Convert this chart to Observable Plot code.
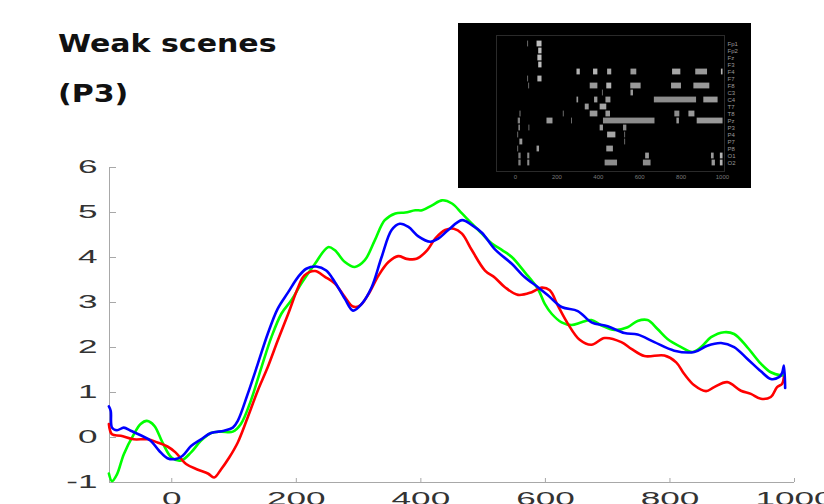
<!DOCTYPE html>
<html><head><meta charset="utf-8">
<script src="https://cdn.jsdelivr.net/npm/d3@7"></script>
<script src="https://cdn.jsdelivr.net/npm/@observablehq/plot@0.6"></script>
<style>
body{margin:0;background:#fff;}
#wrap{position:relative;width:824px;height:504px;overflow:hidden;background:#fff;}
.title{position:absolute;left:58px;font-family:"DejaVu Sans",Verdana,sans-serif;font-weight:bold;font-size:25px;line-height:25px;color:#111;transform:scaleX(1.2);transform-origin:0 0;white-space:nowrap;}
#main{position:absolute;left:0;top:0;}
#inset{position:absolute;left:458px;top:23px;}
</style></head><body>
<div id="wrap">
<div id="main"></div>
<div class="title" style="top:31px">Weak scenes</div>
<div class="title" style="top:81px">(P3)</div>
<div id="inset"></div>
</div>
<script>
// ---- main chart data (time ms, amplitude µV) ----
const xTicks = [0, 200, 400, 600, 800, 1000];
const yTicks = [-1, 0, 1, 2, 3, 4, 5, 6];
const seriesNames = ["cond1", "cond2", "cond3"];
const seriesColors = ["#00ff00", "#ff0000", "#0000ff"];

const cond1 = [[-101,-0.80],[-96,-0.97],[-88,-0.82],[-77,-0.37],[-61,0.07],[-50,0.30],[-40,0.37],[-28,0.26],[-15,-0.11],[0,-0.45],[15,-0.51],[31,-0.33],[47,-0.07],[63,0.10],[79,0.13],[98,0.13],[111,0.30],[127,0.82],[144,1.56],[160,2.23],[176,2.75],[192,3.05],[208,3.42],[230,3.86],[251,4.23],[262,4.16],[278,3.90],[294,3.79],[310,3.94],[326,4.38],[342,4.83],[359,4.98],[375,5.00],[391,5.05],[402,5.05],[418,5.16],[434,5.27],[450,5.20],[466,4.98],[482,4.75],[498,4.53],[514,4.31],[531,4.16],[546,4.01],[567,3.67],[588,3.30],[599,2.97],[610,2.75],[626,2.56],[642,2.50],[658,2.56],[674,2.61],[690,2.49],[711,2.39],[732,2.45],[748,2.59],[764,2.61],[780,2.41],[796,2.19],[818,2.01],[836,1.90],[850,2.01],[866,2.23],[887,2.34],[903,2.30],[924,2.01],[946,1.64],[962,1.45],[978,1.38],[983,1.38]];

const cond2 = [[-101,0.30],[-96,0.07],[-82,0.04],[-61,-0.04],[-39,-0.04],[-23,-0.11],[-7,-0.20],[6,-0.33],[23,-0.59],[41,-0.71],[58,-0.80],[68,-0.89],[79,-0.71],[92,-0.45],[106,-0.11],[122,0.45],[138,1.04],[154,1.56],[170,2.15],[187,2.75],[203,3.34],[213,3.60],[230,3.70],[246,3.57],[262,3.42],[278,3.12],[291,2.91],[302,2.93],[316,3.19],[332,3.60],[348,3.90],[364,4.03],[377,3.97],[393,3.97],[410,4.16],[423,4.42],[439,4.61],[453,4.64],[466,4.53],[482,4.16],[503,3.71],[519,3.55],[535,3.34],[556,3.17],[578,3.23],[594,3.33],[607,3.27],[620,2.93],[636,2.53],[655,2.17],[674,2.06],[695,2.21],[722,2.12],[738,1.97],[759,1.81],[791,1.82],[810,1.67],[823,1.41],[839,1.16],[858,1.03],[871,1.12],[892,1.23],[914,1.04],[930,0.97],[946,0.86],[962,0.90],[972,1.12],[980,1.19],[983,1.34]];

const cond3 = [[-101,0.69],[-98,0.59],[-96,0.22],[-88,0.16],[-77,0.22],[-66,0.15],[-50,0.05],[-34,-0.07],[-20,-0.30],[-7,-0.46],[6,-0.48],[17,-0.41],[31,-0.19],[47,-0.04],[63,0.10],[84,0.15],[98,0.22],[106,0.37],[122,0.97],[138,1.63],[154,2.30],[170,2.86],[187,3.23],[203,3.57],[216,3.75],[232,3.80],[248,3.71],[262,3.45],[278,3.08],[291,2.82],[305,2.97],[321,3.34],[337,4.01],[353,4.61],[366,4.75],[380,4.68],[396,4.47],[415,4.35],[428,4.42],[444,4.61],[466,4.83],[482,4.72],[498,4.55],[519,4.18],[546,3.86],[567,3.56],[588,3.34],[604,3.16],[626,2.90],[652,2.81],[674,2.56],[700,2.47],[727,2.32],[748,2.29],[775,2.12],[807,1.93],[839,1.90],[860,2.04],[882,2.10],[903,2.01],[924,1.75],[946,1.47],[962,1.30],[975,1.34],[980,1.43],[983,1.60],[985,1.10]];

// ---- inset (significance raster) data ----
const channels = ["Fp1","Fp2","Fz","F3","F4","F7","F8","C3","C4","T7","T8","Pz","P3","P4","P7","P8","O1","O2"];
const insetTicks = [0, 200, 400, 600, 800, 1000];
// [channel, start ms, end ms, brightness]
const segments = [
["Fp1",59,63,0.5],["Fp1",104,128,0.75],
["Fp2",112,128,0.75],
["Fz",108,128,0.75],
["F3",112,128,0.75],
["F4",297,313,0.7],["F4",377,398,0.7],["F4",445,465,0.65],["F4",558,586,0.6],["F4",759,799,0.65],["F4",871,928,0.6],["F4",995,1003,0.7],
["F7",59,63,0.5],["F7",108,128,0.7],
["F8",64,68,0.5],["F8",361,398,0.6],["F8",441,465,0.7],["F8",557,607,0.6],["F8",754,802,0.6],["F8",862,939,0.6],
["C3",420,424,0.5],["C3",558,570,0.6],
["C4",297,305,0.6],["C4",382,398,0.6],["C4",437,461,0.6],["C4",671,875,0.55],["C4",910,979,0.6],
["T7",337,356,0.6],["T7",409,441,0.65],
["T8",22,26,0.6],["T8",231,235,0.5],["T8",361,398,0.6],["T8",437,459,0.6],["T8",770,794,0.55],["T8",838,867,0.6],
["Pz",13,24,0.5],["Pz",152,181,0.6],["Pz",271,275,0.5],["Pz",425,674,0.55],["Pz",780,792,0.6],["Pz",878,1003,0.6],
["P3",16,24,0.5],["P3",65,69,0.5],["P3",409,425,0.6],["P3",522,538,0.55],
["P4",11,15,0.5],["P4",445,485,0.65],["P4",528,532,0.5],
["P7",21,35,0.6],["P7",528,532,0.5],
["P8",11,15,0.5],["P8",104,116,0.6],["P8",441,473,0.6],
["O1",16,27,0.5],["O1",59,69,0.55],["O1",629,647,0.6],["O1",947,960,0.6],["O1",990,1003,0.7],
["O2",16,27,0.5],["O2",59,69,0.55],["O2",433,493,0.55],["O2",618,655,0.55],["O2",950,966,0.6],["O2",990,1003,0.7]
];

// ---- build tables ----
const toRows = (name, pts) => pts.map(([t, v]) => ({series: name, t, v}));
const rows1 = toRows("cond1", cond1), rows2 = toRows("cond2", cond2), rows3 = toRows("cond3", cond3);
const segRows = segments.map(([ch, t0, t1, g]) => ({ch, t0, t1, g}));
const plain = d => String(d);

const main = Plot.plot({
  width: 824, height: 504,
  marginLeft: 109, marginRight: 30, marginTop: 167, marginBottom: 22,
  x: {domain: [-100, 1000], label: null},
  y: {domain: [-1, 6], label: null},
  color: {type: "ordinal", domain: seriesNames, range: seriesColors},
  style: {background: "transparent", fontFamily: "'Liberation Sans', Arial, sans-serif", fontSize: "18px", color: "#333", overflow: "visible"},
  marks: [
    Plot.ruleX([-100], {stroke: "#a8a8a8"}),
    Plot.ruleY([-1], {stroke: "#a8a8a8"}),
    Plot.axisY({ticks: yTicks, tickFormat: plain, tickSize: -7, tickPadding: 19, stroke: "#a8a8a8", fill: "#333"}),
    Plot.axisX({ticks: xTicks, tickFormat: plain, tickSize: -4, tickPadding: 14, stroke: "#a8a8a8", fill: "#333"}),
    Plot.line(rows1, {x: "t", y: "v", stroke: "series", strokeWidth: 2.6, curve: "catmull-rom"}),
    Plot.line(rows2, {x: "t", y: "v", stroke: "series", strokeWidth: 2.6, curve: "catmull-rom"}),
    Plot.line(rows3, {x: "t", y: "v", stroke: "series", strokeWidth: 2.6, curve: "catmull-rom"})
  ]
});
document.getElementById("main").append(main);
// stretch tick labels horizontally as in the reference
main.querySelectorAll('g[aria-label="y-axis tick label"] text, g[aria-label="x-axis tick label"] text').forEach(el => {
  const w = el.getComputedTextLength();
  el.setAttribute("textLength", w * 1.95);
  el.setAttribute("lengthAdjust", "spacingAndGlyphs");
});

const inset = Plot.plot({
  width: 293, height: 165,
  marginLeft: 38, marginRight: 27, marginTop: 12, marginBottom: 17,
  x: {domain: [-92, 1010], label: null},
  y: {domain: channels, label: null, padding: 0},
  color: {type: "linear", domain: [0, 1], range: ["#000", "#fff"]},
  style: {background: "#000", color: "#8c8c8c", fontFamily: "'Liberation Sans', Arial, sans-serif", fontSize: "6px"},
  marks: [
    Plot.frame({stroke: "#2a2a2a"}),
    Plot.barX(segRows, {x1: "t0", x2: "t1", y: "ch", fill: "g", insetTop: 0.6, insetBottom: 0.6}),
    Plot.axisY({anchor: "right", tickSize: 0, tickPadding: 3, fill: "#9a9a9a"}),
    Plot.axisX({ticks: insetTicks, tickFormat: plain, tickSize: 0, tickPadding: 3, fill: "#7a7a7a"})
  ]
});
document.getElementById("inset").append(inset);
</script>
</body></html>
